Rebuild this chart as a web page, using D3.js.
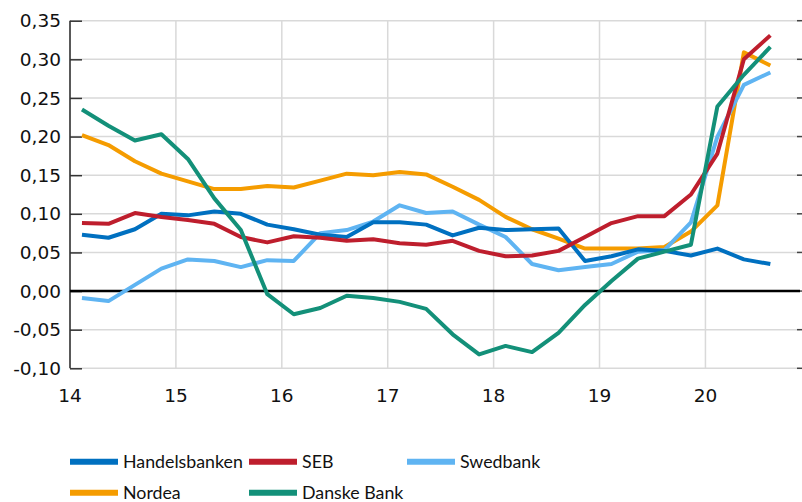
<!DOCTYPE html>
<html>
<head>
<meta charset="utf-8">
<script src="https://cdn.jsdelivr.net/npm/d3@7"></script>
<style>
  body { margin: 0; background: #fff; }
  svg { display: block; }
  .tick-label { font-family: 'DejaVu Sans', sans-serif; font-size: 18.5px; fill: #111; }
  .legend-label { font-family: Lato, sans-serif; font-size: 17.8px; fill: #111; }
</style>
</head>
<body>
<svg id="chart" width="802" height="502"></svg>
<script>
// quarters 2014Q1 .. 2020Q3
var quarters = d3.range(27).map(function (i) {
  return (2014 + Math.floor(i / 4)) + 'Q' + (i % 4 + 1);
});

var handelsbanken = [0.073, 0.069, 0.080, 0.100, 0.098, 0.103, 0.100, 0.086, 0.080, 0.073, 0.070, 0.089, 0.089, 0.086,
  0.072, 0.082, 0.079, 0.080, 0.081, 0.039, 0.045, 0.054, 0.052, 0.046, 0.055, 0.041, 0.035];
var seb = [0.088, 0.087, 0.101, 0.096, 0.092, 0.087, 0.070, 0.063, 0.071, 0.069, 0.065, 0.067, 0.062, 0.060,
  0.065, 0.052, 0.045, 0.046, 0.052, 0.070, 0.088, 0.097, 0.097, 0.125, 0.178, 0.300, 0.331];
var swedbank = [-0.009, -0.013, 0.008, 0.029, 0.041, 0.039, 0.031, 0.040, 0.039, 0.075, 0.079, 0.090, 0.111, 0.101,
  0.103, 0.086, 0.070, 0.035, 0.027, 0.031, 0.035, 0.051, 0.053, 0.089, 0.200, 0.267, 0.283];
var nordea = [0.202, 0.189, 0.168, 0.152, 0.142, 0.132, 0.132, 0.136, 0.134, 0.143, 0.152, 0.150, 0.154, 0.151,
  0.135, 0.118, 0.096, 0.080, 0.068, 0.055, 0.055, 0.055, 0.057, 0.077, 0.111, 0.309, 0.292];
var danske = [0.235, 0.214, 0.195, 0.203, 0.171, 0.120, 0.079, -0.004, -0.030, -0.022, -0.006, -0.009, -0.014, -0.023,
  -0.056, -0.082, -0.071, -0.079, -0.054, -0.018, 0.013, 0.042, 0.051, 0.060, 0.239, 0.280, 0.316];

var yTicks = [-0.10, -0.05, 0, 0.05, 0.10, 0.15, 0.20, 0.25, 0.30, 0.35];
var xTicks = [14, 15, 16, 17, 18, 19, 20];

var series = [
  { name: 'Handelsbanken', values: handelsbanken, color: '#0070c0' },
  { name: 'SEB', values: seb, color: '#be1e2d' },
  { name: 'Swedbank', values: swedbank, color: '#5fb4f2' },
  { name: 'Nordea', values: nordea, color: '#f59c00' },
  { name: 'Danske Bank', values: danske, color: '#139079' }
];
// draw order (last on top)
var drawOrder = ['Nordea', 'Swedbank', 'Handelsbanken', 'SEB', 'Danske Bank'];

var svg = d3.select('#chart');
var plot = { left: 70, right: 800, top: 20.7, bottom: 368.3 };

// x in years (two-digit), quarters plotted slightly after the year start
function quarterPos(q) {
  var yr = +q.slice(2, 4), n = +q.slice(5);
  return yr + (n - 1) / 4 + 0.113;
}

var x = d3.scaleLinear().domain([14, 20.893]).range([plot.left, plot.right]);
var y = d3.scaleLinear().domain([-0.10, 0.35]).range([plot.bottom, plot.top]);
var fmt = function (v) { return d3.format('.2f')(v).replace('.', ',').replace('−', '-'); };

// horizontal grid
svg.append('g').selectAll('line')
  .data(yTicks.filter(function (d) { return d !== 0; }))
  .enter().append('line')
  .attr('x1', plot.left).attr('x2', plot.right)
  .attr('y1', function (d) { return y(d); })
  .attr('y2', function (d) { return y(d); })
  .attr('stroke', '#d9d9d9').attr('stroke-width', 1.5);

// vertical grid
svg.append('g').selectAll('line')
  .data(xTicks.slice(1))
  .enter().append('line')
  .attr('x1', function (d) { return x(d); })
  .attr('x2', function (d) { return x(d); })
  .attr('y1', plot.top).attr('y2', plot.bottom)
  .attr('stroke', '#d9d9d9').attr('stroke-width', 1.5);

// left axis with inward ticks
var yAxis = d3.axisRight(y).tickValues(yTicks).tickSize(12).tickFormat('');
svg.append('g').attr('transform', 'translate(' + plot.left + ',0)').call(yAxis)
  .call(function (g) {
    g.select('.domain').attr('stroke', '#222').attr('stroke-width', 1.5)
      .attr('d', 'M0,' + plot.top + 'V' + plot.bottom);
    g.selectAll('.tick line').attr('stroke', '#333').attr('stroke-width', 1.5);
  });

// small right ticks
svg.append('g').selectAll('line')
  .data(yTicks)
  .enter().append('line')
  .attr('x1', plot.right - 3).attr('x2', plot.right + 2)
  .attr('y1', function (d) { return y(d); })
  .attr('y2', function (d) { return y(d); })
  .attr('stroke', '#444').attr('stroke-width', 1.5);

svg.append('g').selectAll('text')
  .data(yTicks)
  .enter().append('text')
  .attr('class', 'tick-label')
  .attr('x', 61)
  .attr('y', function (d) { return y(d); })
  .attr('dy', '0.36em')
  .attr('text-anchor', 'end')
  .text(fmt);

svg.append('g').selectAll('text')
  .data(xTicks)
  .enter().append('text')
  .attr('class', 'tick-label')
  .attr('x', function (d) { return x(d); })
  .attr('y', 402)
  .attr('text-anchor', 'middle')
  .text(function (d) { return d; });

// zero line
svg.append('line')
  .attr('x1', plot.left).attr('x2', plot.right)
  .attr('y1', y(0)).attr('y2', y(0))
  .attr('stroke', '#000').attr('stroke-width', 2.5);

var line = d3.line()
  .x(function (d) { return x(d.x); })
  .y(function (d) { return y(d.y); });

svg.append('g').selectAll('path')
  .data(drawOrder.map(function (n) { return series.find(function (s) { return s.name === n; }); }))
  .enter().append('path')
  .attr('fill', 'none')
  .attr('stroke', function (d) { return d.color; })
  .attr('stroke-width', 4)
  .attr('stroke-linejoin', 'round')
  .attr('d', function (d) {
    return line(d.values.map(function (v, i) { return { x: quarterPos(quarters[i]), y: v }; }));
  });

// legend
var legendPos = [[70, 461.7], [249, 461.7], [407, 461.7], [70, 492.8], [249, 492.8]];
var legend = svg.append('g').selectAll('g')
  .data(series)
  .enter().append('g')
  .attr('transform', function (d, i) { return 'translate(' + legendPos[i][0] + ',' + legendPos[i][1] + ')'; });

legend.append('line')
  .attr('x1', 0).attr('x2', 48)
  .attr('stroke', function (d) { return d.color; })
  .attr('stroke-width', 6);

legend.append('text')
  .attr('class', 'legend-label')
  .attr('x', 53)
  .attr('y', 6.3)
  .text(function (d) { return d.name; });
</script>
</body>
</html>
